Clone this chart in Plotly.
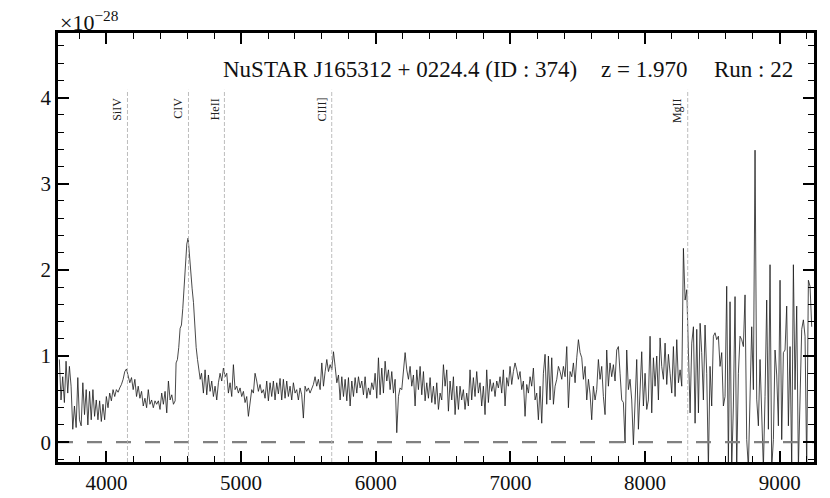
import numpy as np
import plotly.graph_objects as go

# ---- spectrum (flux in units of 1e-28) ----
seg_a_range = (3650, 4510)
seg_a_flux = [0.96, 0.49, 0.76, 0.46, 0.94, 0.57, 0.88, 0.65, 0.15, 0.42,
              0.17, 0.75, 0.26, 0.19, 0.69, 0.32, 0.61, 0.20, 0.59, 0.26,
              0.61, 0.30, 0.49, 0.26, 0.48, 0.24, 0.44, 0.26, 0.53, 0.40,
              0.57, 0.48, 0.61, 0.53, 0.61, 0.58, 0.63, 0.67, 0.73, 0.82,
              0.85, 0.78, 0.69, 0.75, 0.61, 0.73, 0.53, 0.65, 0.51, 0.59,
              0.42, 0.51, 0.40, 0.61, 0.44, 0.49, 0.40, 0.48, 0.44, 0.48,
              0.38, 0.57, 0.44, 0.59, 0.34, 0.71, 0.49, 0.55, 0.44, 0.48]

seg_b_range = (4517, 4716)
seg_b_flux = [0.92, 0.96, 1.10, 1.32, 1.36, 1.55, 1.82, 1.95, 2.30, 2.37,
              2.16, 1.90, 1.78, 1.62, 1.27, 1.10, 0.96, 0.84, 0.73, 0.80, 0.62]

seg_c_range = (4720, 5512)
seg_c_flux = [0.57, 0.84, 0.55, 0.78, 0.59, 0.71, 0.53, 0.65, 0.49, 0.69,
              0.80, 0.71, 0.86, 0.76, 0.80, 0.57, 0.69, 0.53, 0.90, 0.61,
              0.65, 0.57, 0.63, 0.53, 0.59, 0.46, 0.53, 0.30, 0.49, 0.61,
              0.57, 0.80, 0.71, 0.59, 0.67, 0.57, 0.61, 0.51, 0.71, 0.48,
              0.69, 0.53, 0.71, 0.49, 0.69, 0.56, 0.74, 0.49, 0.73, 0.51,
              0.71, 0.53, 0.65, 0.49, 0.69, 0.57, 0.61, 0.49, 0.63, 0.55,
              0.28, 0.65, 0.59, 0.63, 0.57]

seg_d_range = (5537, 5574)
seg_d_flux = [0.67, 0.76, 0.65, 0.73]

seg_e_range = (5587, 6614)
seg_e_flux = [0.61, 0.92, 0.65, 0.82, 0.96, 0.82, 0.90, 0.84, 1.05, 0.88,
              0.69, 0.78, 0.49, 0.76, 0.53, 0.73, 0.48, 0.75, 0.42, 0.71,
              0.53, 0.75, 0.57, 0.76, 0.63, 0.71, 0.55, 0.76, 0.51, 0.63,
              0.55, 0.69, 0.61, 0.80, 0.51, 0.98, 0.55, 0.86, 0.57, 0.94,
              0.71, 0.84, 0.61, 0.82, 0.57, 0.73, 0.11, 0.53, 0.63, 0.61,
              0.80, 1.04, 0.84, 0.73, 0.88, 0.65, 0.78, 0.42, 0.84, 0.61,
              0.88, 0.55, 0.82, 0.48, 0.69, 0.51, 0.75, 0.46, 0.65, 0.44,
              0.69, 0.38, 0.57, 0.49, 0.90, 0.65, 0.84, 0.36, 0.71, 0.49,
              0.76, 0.32, 0.65, 0.38]

seg_f_range = (6626, 7592)
seg_f_flux = [0.65, 0.49, 0.61, 0.38, 0.57, 0.42, 0.84, 0.49, 0.75, 0.53,
              0.82, 0.57, 0.69, 0.42, 0.65, 0.32, 0.84, 0.46, 0.73, 0.59,
              0.69, 0.53, 0.71, 0.63, 0.76, 0.57, 0.84, 0.42, 0.75, 0.65,
              0.88, 0.67, 0.82, 0.92, 0.84, 0.73, 0.82, 0.61, 0.71, 0.30,
              0.67, 0.57, 0.76, 0.65, 0.86, 0.49, 0.57, 0.26, 0.65, 0.22,
              0.80, 1.02, 0.44, 1.00, 0.49, 0.98, 0.44, 0.65, 0.73, 0.88,
              0.82, 0.73, 0.88, 0.76, 1.11, 0.40, 0.82, 0.76, 0.92, 0.69,
              0.98, 1.19, 1.04, 0.98, 0.73, 0.88, 0.49, 0.73, 0.56]

seg_g_range = (7604, 8409)
seg_g_flux = [0.26, 0.65, 0.49, 0.61, 0.96, 0.73, 0.88, 0.53, 0.32, 1.07,
              0.65, 0.92, 0.76, 0.90, 0.71, 1.07, 1.11, 0.80, 0.49, 0.46,
              -0.01, 1.07, 0.61, 0.73, 0.49, -0.03, 0.49, 0.96, 0.15, 0.65,
              1.05, 0.42, 0.80, 0.38, 0.49, 1.23, 0.34, 0.98, 0.65, 1.00,
              0.49, 1.21, 0.88, 0.73, 1.15, 0.67, 1.02, 0.80, 0.57, 1.11,
              0.53, 1.19, 0.69, 0.84, 0.65, 2.25, 1.65, 1.77, 0.96, 0.34,
              1.15, 1.34, 0.22, 1.31, 0.34, 1.38]

seg_h_range = (8421, 9238)
seg_h_flux = [1.04, 0.49, 1.36, 0.80, -0.30, 0.88, 0.42, 1.23, 1.27, 1.19,
              1.23, 0.88, 1.04, 0.42, 0.53, 1.81, -0.25, 1.63, -0.30, 0.42,
              1.69, -0.30, 0.80, 1.23, 1.19, 1.11, 1.71, 0.03, -0.30, 0.61,
              1.34, 0.61, 3.39, 0.50, 0.19, 0.96, 0.42, -0.30, 0.53, 1.65,
              0.15, 2.06, -0.30, 0.03, 1.07, 0.78, 0.19, 1.88, 0.03, 1.04,
              1.07, 1.58, 0.19, 1.11, -0.30, 2.06, 0.61, 1.58, -0.30, 0.73,
              1.31, 1.42, 1.23, -0.30, 1.88, 1.81, 1.34]

# emission lines (observed wavelength)
line_names = ["SiIV", "CIV", "HeII", "CIII]", "MgII"]
line_waves = [4156, 4609, 4876, 5673, 8317]

title_parts = ["NuSTAR J165312 + 0224.4 (ID : 374)", "z = 1.970", "Run : 22"]

segments = [
    (seg_a_range, seg_a_flux), (seg_b_range, seg_b_flux),
    (seg_c_range, seg_c_flux), (seg_d_range, seg_d_flux),
    (seg_e_range, seg_e_flux), (seg_f_range, seg_f_flux),
    (seg_g_range, seg_g_flux), (seg_h_range, seg_h_flux),
]
wave = np.concatenate([np.linspace(r[0], r[1], len(f)) for r, f in segments])
flux = np.concatenate([np.array(f) for r, f in segments])

XR = [3640, 9255]
YR = [-0.23, 4.75]
SERIF = "Liberation Serif"

fig = go.Figure()
fig.add_trace(go.Scatter(x=wave, y=flux, mode="lines",
                         line=dict(color="#1a1a1a", width=0.8),
                         showlegend=False, hoverinfo="skip"))
# zero line
fig.add_trace(go.Scatter(x=XR, y=[0, 0], mode="lines",
                         line=dict(color="#808080", width=2.2, dash="15px,14px"),
                         showlegend=False, hoverinfo="skip"))

for name, w in zip(line_names, line_waves):
    fig.add_shape(type="line", xref="x", yref="y", x0=w, x1=w, y0=YR[0], y1=4.09,
                  line=dict(color="#b4b4b4", width=0.9, dash="4px,2px"))
    fig.add_annotation(x=w, y=4.02, xref="x", yref="y", text=name, showarrow=False,
                       textangle=-90, xanchor="center", yanchor="top", xshift=-10,
                       font=dict(family=SERIF, size=12, color="#222"))

title_x = [0.215, 0.715, 0.975]
title_anchor = ["left", "left", "right"]
for t, xp, xa in zip(title_parts, title_x, title_anchor):
    fig.add_annotation(x=xp, y=0.914, xref="paper", yref="paper", text=t,
                       showarrow=False, xanchor=xa, yanchor="middle",
                       font=dict(family=SERIF, size=23, color="#111"))

fig.add_annotation(x=0.0, y=1.0, xref="paper", yref="paper",
                   text="×10<sup>−28</sup>", showarrow=False,
                   xanchor="left", yanchor="bottom", yshift=-4,
                   font=dict(family=SERIF, size=22, color="#111"))

axis_common = dict(showline=True, linecolor="black", linewidth=2.5, mirror="allticks",
                   ticks="inside", ticklen=11, tickwidth=1.8, tickcolor="black",
                   showgrid=False, zeroline=False,
                   tickfont=dict(family=SERIF, size=21, color="#111"))
fig.update_xaxes(range=XR, dtick=1000, tick0=0,
                 minor=dict(dtick=200, ticks="inside", ticklen=6, tickwidth=1.3,
                            tickcolor="black", showgrid=False),
                 **axis_common)
fig.update_yaxes(range=YR, dtick=1, tick0=0,
                 minor=dict(dtick=0.2, ticks="inside", ticklen=6, tickwidth=1.3,
                            tickcolor="black", showgrid=False),
                 **axis_common)

# page body adds an 8px offset, margins compensate for it
fig.update_layout(width=830, height=498, margin=dict(l=50, r=24, t=25, b=44),
                  plot_bgcolor="white", paper_bgcolor="white")
fig.write_html("out.html")
